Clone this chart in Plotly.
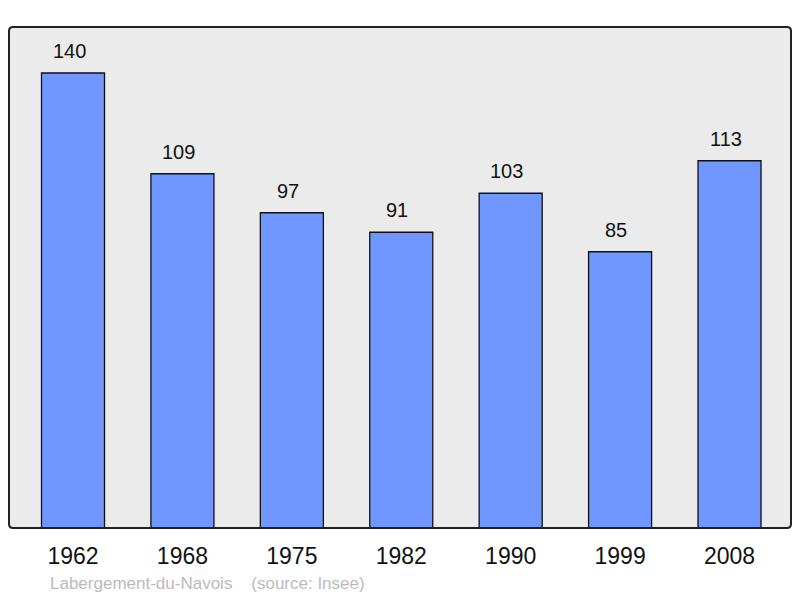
import plotly.graph_objects as go

years = ["1962", "1968", "1975", "1982", "1990", "1999", "2008"]
population = [140, 109, 97, 91, 103, 85, 113]
footer = "Labergement-du-Navois    (source: Insee)"

idx = list(range(len(years)))

fig = go.Figure()
fig.add_trace(go.Bar(
    x=idx, y=population, width=0.576,
    marker=dict(color="#7097FF", line=dict(color="#111111", width=1.3)),
    hoverinfo="skip",
))

for i, v in zip(idx, population):
    fig.add_annotation(x=i, y=v, text=str(v), showarrow=False, yanchor="middle",
                       yshift=22, xshift=-4,
                       font=dict(family="Liberation Sans, Arial", size=20, color="#111111"))

L, R, T, B = 9, 9, 27, 70
W, H = 800, 598
pw, ph = W - L - R, H - T - B

fig.add_annotation(xref="paper", yref="paper", x=(48 - L) / pw, y=(H - B - 583) / ph,
                   xanchor="left", yanchor="middle", showarrow=False,
                   text=footer.replace("    ", "&nbsp;&nbsp;&nbsp;&nbsp;"),
                   font=dict(family="Liberation Sans, Arial", size=17, color="#BBBBBB"))

rx, ry = 4 / pw, 4 / ph
path = (f"M {rx},0 L {1-rx},0 Q 1,0 1,{ry} L 1,{1-ry} Q 1,1 {1-rx},1 "
        f"L {rx},1 Q 0,1 0,{1-ry} L 0,{ry} Q 0,0 {rx},0 Z")
fig.add_shape(type="path", xref="paper", yref="paper", path=path,
              line=dict(color="#222222", width=2), layer="above")

fig.update_layout(
    width=W, height=H,
    margin=dict(l=L, r=R, t=T, b=B),
    paper_bgcolor="white", plot_bgcolor="#EBEBEB",
    showlegend=False,
    xaxis=dict(range=[-0.585, 6.562], tickmode="array", tickvals=idx, ticktext=years,
               showgrid=False, zeroline=False, ticks="", ticklabelstandoff=12,
               tickfont=dict(family="Liberation Sans, Arial", size=23, color="#111111")),
    yaxis=dict(range=[0, 154.15], showgrid=False, zeroline=False, showticklabels=False, ticks=""),
)

fig.write_html("out.html", config={"displayModeBar": False},
               post_script="document.body.style.margin='0';document.body.style.overflow='hidden';")
